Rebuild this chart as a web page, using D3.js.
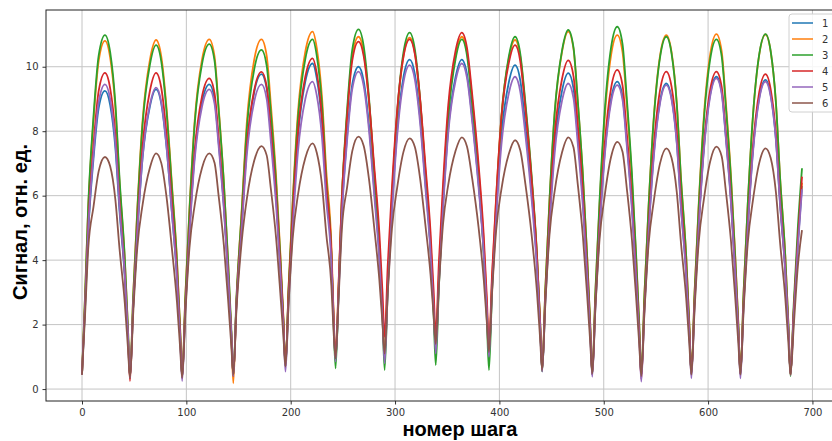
<!DOCTYPE html>
<html>
<head>
<meta charset="utf-8">
<script src="https://cdn.jsdelivr.net/npm/d3@7"></script>
<style>
  body { margin: 0; background: #fff; }
  svg { display: block; }
  .tick text { font-family: "DejaVu Sans", sans-serif; font-size: 10px; fill: #333; }
  .axis-title { font-family: "Liberation Sans", Arial, sans-serif; font-size: 20px; font-weight: bold; fill: #000; }
</style>
</head>
<body>
<svg id="chart" width="832" height="441"></svg>
<script>
// //////// DATA

const seriesNames = ["1", "2", "3", "4", "5", "6"];
const seriesColors = ["#1f77b4", "#ff7f0e", "#2ca02c", "#d62728", "#9467bd", "#8c564b"];

// step numbers of the sampled points (minimum, rising side, peak, falling side per cycle)
const steps = [
  0, 3, 6, 11, 16, 22, 27, 32, 36, 41, 44,
  46, 49, 53, 58, 65, 71, 76, 81, 86, 91, 94,
  96, 99, 103, 108, 115, 122, 127, 131, 136, 140, 143,
  145, 148, 153, 158, 165, 172, 177, 181, 186, 190, 193,
  195, 198, 202, 207, 214, 221, 225, 230, 234, 239, 241,
  243, 246, 249, 254, 259, 265, 270, 275, 280, 285, 288,
  290, 293, 297, 302, 308, 314, 319, 324, 329, 334, 337,
  339, 342, 346, 351, 358, 364, 369, 374, 380, 385, 388,
  390, 393, 397, 402, 409, 415, 420, 425, 431, 436, 439,
  441, 444, 448, 453, 460, 466, 471, 475, 480, 484, 487,
  489, 492, 496, 501, 507, 513, 518, 522, 527, 531, 534,
  536, 539, 543, 548, 554, 560, 565, 570, 574, 579, 582,
  584, 587, 591, 596, 602, 608, 613, 617, 622, 626, 629,
  631, 634, 638, 643, 649, 655, 660, 665, 669, 674, 677,
  679, 682, 686, 690,
];

const signal1 = [
  0.45, 2.56, 4.85, 7.14, 8.72, 9.25, 8.81, 7.47, 5.51, 3.47, 1.69,
  0.35, 2.5, 4.83, 7.15, 8.76, 9.3, 8.85, 7.51, 5.54, 3.48, 1.69,
  0.35, 2.53, 4.9, 7.27, 8.9, 9.45, 9.0, 7.64, 5.65, 3.57, 1.76,
  0.4, 2.65, 5.09, 7.52, 9.21, 9.77, 9.32, 7.96, 5.96, 3.87, 2.06,
  0.7, 2.96, 5.4, 7.84, 9.54, 10.1, 9.64, 8.26, 6.24, 4.12, 2.28,
  0.9, 3.08, 5.45, 7.82, 9.45, 10.0, 9.55, 8.2, 6.22, 4.15, 2.35,
  1.0, 3.21, 5.61, 8.01, 9.67, 10.22, 9.77, 8.42, 6.43, 4.36, 2.55,
  1.2, 3.36, 5.71, 8.06, 9.68, 10.22, 9.76, 8.4, 6.39, 4.29, 2.47,
  1.1, 3.25, 5.58, 7.9, 9.51, 10.05, 9.58, 8.15, 6.06, 3.88, 1.98,
  0.55, 2.77, 5.18, 7.58, 9.25, 9.8, 9.33, 7.93, 5.87, 3.72, 1.85,
  0.45, 2.63, 4.99, 7.36, 9.0, 9.54, 9.08, 7.71, 5.7, 3.6, 1.77,
  0.4, 2.58, 4.94, 7.3, 8.94, 9.48, 9.03, 7.67, 5.69, 3.61, 1.8,
  0.45, 2.67, 5.07, 7.47, 9.14, 9.69, 9.23, 7.84, 5.81, 3.68, 1.84,
  0.45, 2.64, 5.02, 7.4, 9.04, 9.59, 9.13, 7.76, 5.75, 3.65, 1.82,
  0.45, 2.3, 4.5, 6.3,
];

const signal2 = [
  0.45, 2.93, 5.63, 8.32, 10.18, 10.8, 10.28, 8.71, 6.41, 4.01, 1.92,
  0.35, 2.87, 5.59, 8.31, 10.2, 10.83, 10.31, 8.73, 6.43, 4.02, 1.92,
  0.35, 2.87, 5.6, 8.33, 10.22, 10.85, 10.32, 8.72, 6.37, 3.91, 1.78,
  0.18, 2.74, 5.52, 8.29, 10.21, 10.85, 10.34, 8.82, 6.59, 4.25, 2.22,
  0.7, 3.19, 5.9, 8.6, 10.47, 11.09, 10.58, 9.05, 6.81, 4.47, 2.43,
  0.9, 3.31, 5.92, 8.52, 10.33, 10.93, 10.43, 8.94, 6.76, 4.48, 2.49,
  1.0, 3.38, 5.95, 8.52, 10.31, 10.9, 10.42, 8.96, 6.83, 4.6, 2.66,
  1.2, 3.54, 6.07, 8.59, 10.35, 10.93, 10.44, 8.96, 6.8, 4.54, 2.57,
  1.1, 3.44, 5.97, 8.49, 10.25, 10.83, 10.32, 8.77, 6.51, 4.15, 2.09,
  0.55, 3.08, 5.82, 8.56, 10.46, 11.09, 10.56, 8.96, 6.62, 4.17, 2.05,
  0.45, 2.98, 5.72, 8.45, 10.35, 10.98, 10.45, 8.86, 6.54, 4.1, 1.99,
  0.4, 2.94, 5.69, 8.44, 10.35, 10.98, 10.45, 8.87, 6.56, 4.14, 2.03,
  0.45, 2.98, 5.73, 8.48, 10.38, 11.01, 10.48, 8.9, 6.57, 4.15, 2.03,
  0.45, 2.98, 5.73, 8.47, 10.37, 11.0, 10.47, 8.89, 6.56, 4.13, 2.02,
  0.43, 2.4, 4.7, 6.4,
];

const signal3 = [
  0.45, 2.98, 5.72, 8.45, 10.35, 10.98, 10.45, 8.85, 6.52, 4.07, 1.94,
  0.35, 2.83, 5.51, 8.19, 10.05, 10.67, 10.16, 8.61, 6.34, 3.96, 1.9,
  0.35, 2.83, 5.53, 8.22, 10.08, 10.7, 10.19, 8.64, 6.37, 4.0, 1.95,
  0.4, 2.83, 5.46, 8.09, 9.91, 10.52, 10.03, 8.56, 6.4, 4.14, 2.17,
  0.7, 3.14, 5.78, 8.41, 10.24, 10.85, 10.34, 8.81, 6.56, 4.21, 2.17,
  0.64, 3.16, 5.9, 8.64, 10.53, 11.16, 10.63, 9.05, 6.72, 4.29, 2.18,
  0.59, 3.1, 5.83, 8.55, 10.43, 11.06, 10.54, 9.0, 6.73, 4.35, 2.29,
  0.74, 3.17, 5.8, 8.42, 10.24, 10.85, 10.34, 8.8, 6.54, 4.18, 2.13,
  0.59, 3.07, 5.76, 8.45, 10.31, 10.93, 10.41, 8.85, 6.57, 4.18, 2.11,
  0.55, 3.09, 5.85, 8.6, 10.5, 11.14, 10.6, 9.0, 6.65, 4.19, 2.05,
  0.45, 3.04, 5.85, 8.65, 10.59, 11.24, 10.7, 9.07, 6.69, 4.19, 2.03,
  0.4, 2.93, 5.67, 8.4, 10.3, 10.93, 10.41, 8.83, 6.53, 4.12, 2.02,
  0.45, 2.95, 5.65, 8.35, 10.23, 10.85, 10.33, 8.77, 6.48, 4.09, 2.01,
  0.45, 2.98, 5.73, 8.48, 10.38, 11.01, 10.48, 8.89, 6.55, 4.11, 1.99,
  0.4, 2.6, 5.0, 6.85,
];

const signal4 = [
  0.45, 2.7, 5.13, 7.56, 9.25, 9.81, 9.33, 7.9, 5.8, 3.6, 1.68,
  0.25, 2.54, 5.03, 7.52, 9.24, 9.81, 9.34, 7.92, 5.84, 3.66, 1.77,
  0.35, 2.58, 4.99, 7.41, 9.08, 9.64, 9.18, 7.79, 5.76, 3.63, 1.79,
  0.4, 2.67, 5.12, 7.57, 9.27, 9.84, 9.39, 8.02, 6.02, 3.93, 2.11,
  0.75, 3.03, 5.51, 7.98, 9.69, 10.26, 9.8, 8.41, 6.37, 4.24, 2.39,
  1.0, 3.35, 5.89, 8.43, 10.19, 10.78, 10.32, 8.95, 6.93, 4.83, 2.99,
  1.62, 3.84, 6.24, 8.63, 10.3, 10.85, 10.39, 9.01, 6.99, 4.88, 3.05,
  1.67, 3.92, 6.37, 8.81, 10.5, 11.06, 10.58, 9.12, 6.99, 4.76, 2.82,
  1.36, 3.59, 6.02, 8.44, 10.11, 10.67, 10.17, 8.66, 6.44, 4.12, 2.11,
  0.6, 2.9, 5.4, 7.9, 9.62, 10.2, 9.71, 8.25, 6.1, 3.86, 1.91,
  0.45, 2.72, 5.18, 7.63, 9.33, 9.9, 9.42, 7.98, 5.87, 3.66, 1.74,
  0.3, 2.59, 5.08, 7.56, 9.28, 9.85, 9.38, 7.97, 5.9, 3.74, 1.86,
  0.45, 2.71, 5.15, 7.59, 9.29, 9.85, 9.38, 7.97, 5.9, 3.74, 1.86,
  0.45, 2.69, 5.11, 7.53, 9.21, 9.77, 9.3, 7.91, 5.86, 3.71, 1.85,
  0.45, 2.4, 4.6, 6.59,
];

const signal5 = [
  0.45, 2.61, 4.95, 7.29, 8.91, 9.45, 9.0, 7.63, 5.63, 3.54, 1.72,
  0.35, 2.51, 4.85, 7.19, 8.81, 9.35, 8.9, 7.53, 5.53, 3.44, 1.62,
  0.25, 2.42, 4.78, 7.13, 8.76, 9.3, 8.86, 7.52, 5.56, 3.52, 1.74,
  0.4, 2.57, 4.93, 7.28, 8.91, 9.45, 9.0, 7.67, 5.71, 3.66, 1.88,
  0.54, 2.7, 5.04, 7.38, 9.0, 9.54, 9.11, 7.8, 5.89, 3.89, 2.15,
  0.85, 3.01, 5.35, 7.69, 9.31, 9.85, 9.4, 8.04, 6.05, 3.97, 2.16,
  0.8, 3.02, 5.43, 7.83, 9.5, 10.05, 9.6, 8.26, 6.29, 4.23, 2.44,
  1.1, 3.26, 5.6, 7.94, 9.56, 10.1, 9.65, 8.28, 6.28, 4.19, 2.37,
  1.0, 3.09, 5.35, 7.6, 9.17, 9.69, 9.23, 7.86, 5.85, 3.74, 1.91,
  0.54, 2.69, 5.01, 7.33, 8.94, 9.48, 9.03, 7.66, 5.66, 3.57, 1.75,
  0.38, 2.55, 4.91, 7.26, 8.89, 9.43, 8.97, 7.59, 5.57, 3.45, 1.61,
  0.23, 2.44, 4.83, 7.22, 8.88, 9.43, 8.98, 7.61, 5.61, 3.52, 1.7,
  0.33, 2.56, 4.99, 7.41, 9.08, 9.64, 9.17, 7.78, 5.73, 3.59, 1.73,
  0.33, 2.54, 4.94, 7.33, 8.99, 9.54, 9.08, 7.72, 5.71, 3.62, 1.8,
  0.43, 2.2, 4.4, 6.2,
];

const signal6 = [
  0.45, 2.34, 4.37, 5.65, 6.76, 7.2, 6.91, 5.87, 4.34, 2.67, 1.29,
  0.35, 2.3, 4.39, 5.71, 6.86, 7.31, 7.01, 5.96, 4.41, 2.7, 1.3,
  0.35, 2.3, 4.39, 5.71, 6.86, 7.31, 7.02, 5.98, 4.45, 2.77, 1.39,
  0.45, 2.44, 4.56, 5.91, 7.08, 7.54, 7.25, 6.21, 4.69, 3.0, 1.64,
  0.7, 2.64, 4.71, 6.03, 7.17, 7.62, 7.33, 6.33, 4.84, 3.2, 1.86,
  0.95, 2.88, 4.94, 6.25, 7.38, 7.83, 7.54, 6.52, 5.02, 3.37, 2.02,
  1.1, 2.97, 4.97, 6.24, 7.35, 7.78, 7.51, 6.54, 5.12, 3.56, 2.27,
  1.4, 3.19, 5.12, 6.34, 7.39, 7.81, 7.52, 6.52, 5.03, 3.4, 2.06,
  1.15, 2.99, 4.96, 6.21, 7.29, 7.72, 7.41, 6.34, 4.75, 3.01, 1.58,
  0.6, 2.62, 4.78, 6.15, 7.34, 7.81, 7.5, 6.39, 4.75, 2.96, 1.48,
  0.48, 2.49, 4.65, 6.02, 7.2, 7.67, 7.36, 6.26, 4.64, 2.86, 1.4,
  0.4, 2.38, 4.5, 5.84, 7.01, 7.47, 7.17, 6.11, 4.54, 2.82, 1.41,
  0.45, 2.43, 4.55, 5.89, 7.06, 7.52, 7.22, 6.15, 4.57, 2.84, 1.42,
  0.45, 2.42, 4.52, 5.86, 7.01, 7.47, 7.17, 6.11, 4.54, 2.82, 1.41,
  0.45, 1.9, 3.8, 4.93,
];

const signals = [signal1, signal2, signal3, signal4, signal5, signal6];

const xTicks = [0, 100, 200, 300, 400, 500, 600, 700];
const yTicks = [0, 2, 4, 6, 8, 10];

// //////// CHART

function renderChart() {
  const svg = d3.select("#chart");

  // plot box (right side runs past the window edge like in the picture)
  const left = 46;
  const right = 838;
  const top = 10;
  const bottom = 401;

  const x = d3.scaleLinear().domain([-34.5, 724.5]).range([left, right]);
  const y = d3.scaleLinear().domain([-0.37, 11.76]).range([bottom, top]);

  // grid
  const grid = svg.append("g");
  grid.selectAll("line.vx")
    .data(xTicks)
    .join("line")
    .attr("x1", (d) => x(d))
    .attr("x2", (d) => x(d))
    .attr("y1", top)
    .attr("y2", bottom)
    .attr("stroke", "#c4c4c4")
    .attr("stroke-width", 1);
  grid.selectAll("line.hy")
    .data(yTicks)
    .join("line")
    .attr("x1", left)
    .attr("x2", right)
    .attr("y1", (d) => y(d))
    .attr("y2", (d) => y(d))
    .attr("stroke", "#c4c4c4")
    .attr("stroke-width", 1);

  // axes
  const xAxis = d3.axisBottom(x).tickValues(xTicks).tickSize(3.5).tickPadding(4);
  const yAxis = d3.axisLeft(y).tickValues(yTicks).tickSize(3.5).tickPadding(4);

  svg.append("g")
    .attr("transform", `translate(0,${bottom})`)
    .call(xAxis)
    .call((g) => g.select(".domain").remove())
    .call((g) => g.selectAll(".tick line").attr("stroke", "#333"));

  svg.append("g")
    .attr("transform", `translate(${left},0)`)
    .call(yAxis)
    .call((g) => g.select(".domain").remove())
    .call((g) => g.selectAll(".tick line").attr("stroke", "#333"));

  // lines
  const line = d3.line()
    .x((d) => x(d[0]))
    .y((d) => y(d[1]))
    .curve(d3.curveMonotoneX);

  svg.append("g")
    .selectAll("path")
    .data(signals)
    .join("path")
    .attr("d", (vals) => line(steps.map((s, i) => [s, vals[i]])))
    .attr("fill", "none")
    .attr("stroke", (d, i) => seriesColors[i])
    .attr("stroke-width", 1.8)
    .attr("stroke-linejoin", "round");

  // frame
  svg.append("rect")
    .attr("x", left)
    .attr("y", top)
    .attr("width", right - left)
    .attr("height", bottom - top)
    .attr("fill", "none")
    .attr("stroke", "#222")
    .attr("stroke-width", 1);

  // legend
  const legend = svg.append("g").attr("transform", "translate(789,14)");
  legend.append("rect")
    .attr("width", 46)
    .attr("height", 98)
    .attr("rx", 3)
    .attr("fill", "#fff")
    .attr("fill-opacity", 0.85)
    .attr("stroke", "#d0d0d0");

  const items = legend.selectAll("g.item")
    .data(seriesNames)
    .join("g")
    .attr("transform", (d, i) => `translate(0,${9 + i * 16})`);
  items.append("line")
    .attr("x1", 3)
    .attr("x2", 24)
    .attr("stroke", (d, i) => seriesColors[i])
    .attr("stroke-width", 1.5);
  items.append("text")
    .attr("x", 33)
    .attr("dy", "0.35em")
    .style("font-family", "DejaVu Sans, sans-serif")
    .style("font-size", "10px")
    .style("fill", "#333")
    .text((d) => d);

  // axis titles
  svg.append("text")
    .attr("class", "axis-title")
    .attr("text-anchor", "middle")
    .attr("transform", "translate(27,222) rotate(-90)")
    .text("Сигнал, отн. ед.");

  svg.append("text")
    .attr("class", "axis-title")
    .attr("text-anchor", "middle")
    .attr("x", 460)
    .attr("y", 436)
    .text("номер шага");
}

renderChart();
</script>
</body>
</html>
